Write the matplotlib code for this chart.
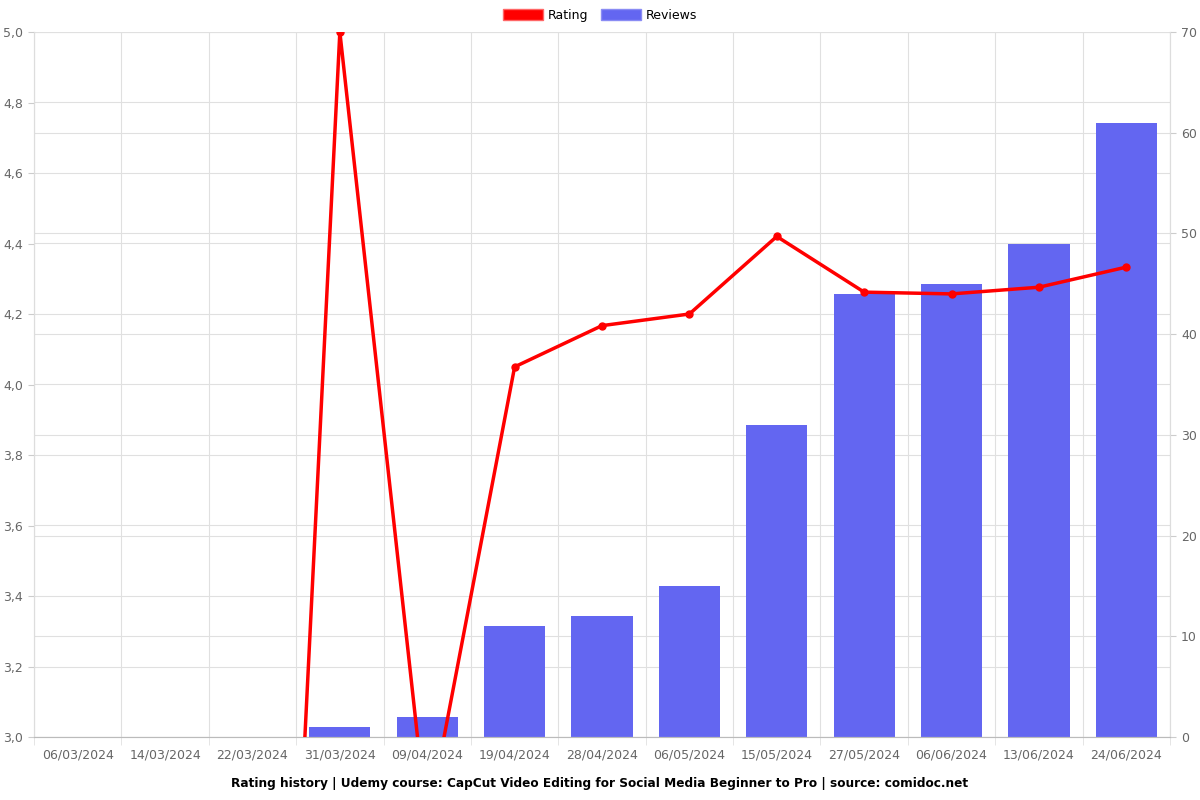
import matplotlib
matplotlib.use("Agg")
import matplotlib.pyplot as plt
import numpy as np
from matplotlib.patches import Patch
from matplotlib.ticker import FixedLocator, FuncFormatter

dates = ["06/03/2024", "14/03/2024", "22/03/2024", "31/03/2024", "09/04/2024",
         "19/04/2024", "28/04/2024", "06/05/2024", "15/05/2024", "27/05/2024",
         "06/06/2024", "13/06/2024", "24/06/2024"]
rating = [0, 0, 0, 5.0, 2.75, 4.05, 4.167, 4.2, 4.42, 4.262, 4.257, 4.276, 4.333]
reviews = [0, 0, 0, 1, 2, 11, 12, 15, 31, 44, 45, 49, 61]

title = "Rating history | Udemy course: CapCut Video Editing for Social Media Beginner to Pro | source: comidoc.net"

fig = plt.figure(figsize=(12, 8), dpi=100)
ax = fig.add_axes([34/1200, 1-737/800, (1170-34)/1200, (737-32)/800])
ax2 = ax.twinx()

x = np.arange(len(dates))
grid_c = "#e0e0e0"
tick_c = "#666666"

R_MIN, R_MAX = 3.0, 5.0
V_MIN, V_MAX = 0, 70

# Bars on right axis
ax2.set_axisbelow(True)
ax2.bar(x, reviews, width=0.7, color="#6366f1", linewidth=0, zorder=2)
ax2.set_ylim(V_MIN, V_MAX)
ax2.set_yticks(np.arange(0, 71, 10))
ax2.grid(axis="y", color=grid_c, linewidth=0.8, zorder=0)
# left-axis grid lines drawn on ax2 (behind bars)
for v in np.arange(R_MIN, R_MAX + 0.01, 0.2):
    ax2.axhline((v - R_MIN) / (R_MAX - R_MIN) * (V_MAX - V_MIN) + V_MIN,
                color=grid_c, linewidth=0.8, zorder=0)
for b in np.arange(-0.5, len(dates), 1.0):
    ax2.axvline(b, color=grid_c, linewidth=0.8, zorder=0)

# Line on left axis (draw above bars)
ax.set_zorder(ax2.get_zorder() + 1)
ax.patch.set_visible(False)
ax.plot(x, rating, color="#ff0000", linewidth=2.5, marker="o", markersize=5, zorder=3)
ax.set_ylim(R_MIN, R_MAX)
ax.set_yticks(np.arange(R_MIN, R_MAX + 0.01, 0.2))
ax.yaxis.set_major_formatter(FuncFormatter(lambda v, p: f"{v:.1f}".replace(".", ",")))

ax.set_xlim(-0.5, len(dates) - 0.5)
ax.set_xticks(x)
ax.set_xticklabels(dates)
ax.xaxis.set_minor_locator(FixedLocator(np.arange(-0.5, len(dates), 1.0)))
ax.tick_params(axis="x", which="major", length=0, pad=8)
ax.tick_params(axis="x", which="minor", length=6, color=grid_c)

for a in (ax, ax2):
    a.tick_params(axis="y", length=4, pad=4, color="#cccccc", labelcolor=tick_c, labelsize=9)
    a.tick_params(axis="x", labelcolor=tick_c, labelsize=9)
    for s in a.spines.values():
        s.set_color("#dddddd")
        s.set_linewidth(0.8)
ax2.spines["top"].set_visible(False)
ax.spines["top"].set_visible(False)
ax.spines["bottom"].set_color("#bbbbbb")

handles = [Patch(facecolor="#ff0000", edgecolor="#ff6666", label="Rating"),
           Patch(facecolor="#6366f1", edgecolor="#8a8cf4", label="Reviews")]
fig.legend(handles=handles, loc="upper center", bbox_to_anchor=(0.5, 1.0), ncol=2,
           frameon=False, fontsize=9, handlelength=3.2, handleheight=1.0,
           columnspacing=1.0, handletextpad=0.4, borderaxespad=0.3)

fig.text(0.5, 1-783/800, title, ha="center", va="center", fontsize=8.7, fontweight="bold")

fig.savefig("out.png", dpi=100)
